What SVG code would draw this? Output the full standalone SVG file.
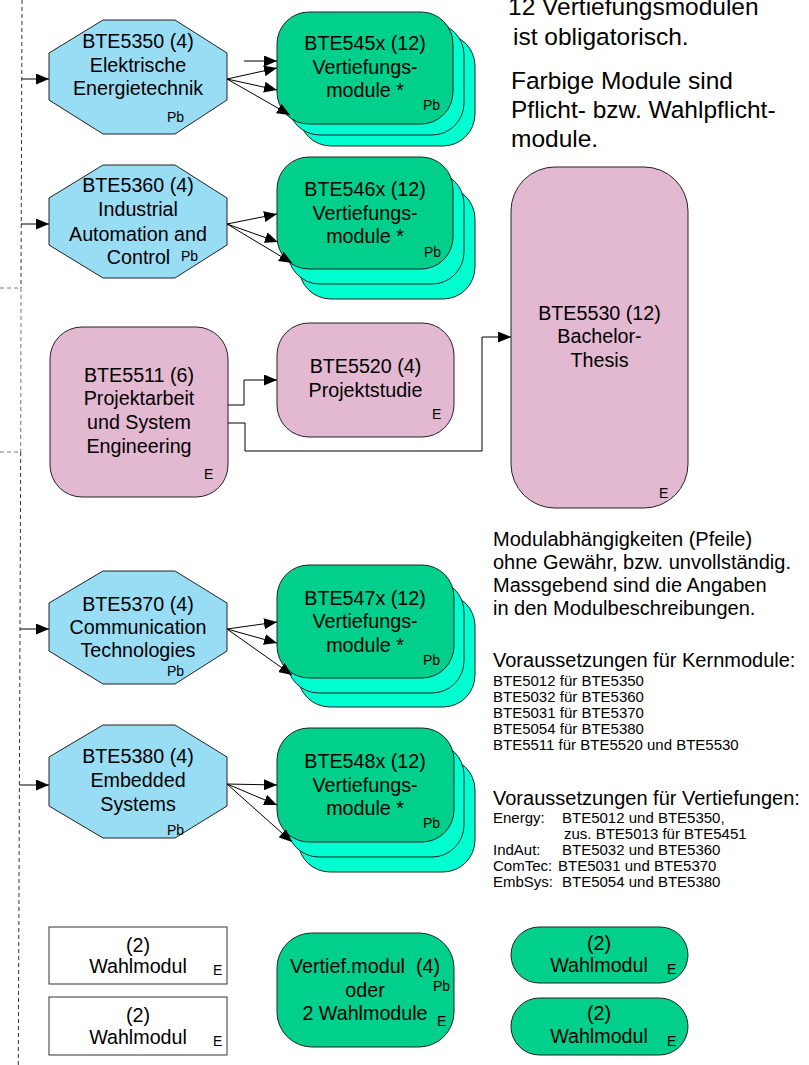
<svg xmlns="http://www.w3.org/2000/svg" width="809" height="1065" viewBox="0 0 809 1065">
<style>
text{font-family:"Liberation Sans",Arial,sans-serif;fill:#000}
.m{font-size:19.7px;text-anchor:middle}
.s{font-size:14px}
.big{font-size:24.5px}
.r{font-size:20px}
.sm{font-size:15px}
.oct{fill:#99DDF5;stroke:#222;stroke-width:1}
.grn{fill:#00D08C;stroke:#222;stroke-width:1}
.cy{fill:#00FFD0;stroke:#222;stroke-width:1}
.pk{fill:#E3B8D1;stroke:#222;stroke-width:1}
.wh{fill:#fff;stroke:#333;stroke-width:1}
.c{fill:none;stroke:#000;stroke-width:1;marker-end:url(#ah)}
.d{fill:none;stroke:#333;stroke-width:1;stroke-dasharray:4,3}
.dg{fill:none;stroke:#777;stroke-width:1;stroke-dasharray:4,3}
</style>
<defs>
<marker id="ah" markerUnits="userSpaceOnUse" markerWidth="13" markerHeight="11" refX="13" refY="5.5" orient="auto">
<path d="M0,0 L13,5.5 L0,11 z" fill="#000"/>
</marker>
</defs>

<g id="frame">
<path class="d" d="M22,0 L21,288"/>
<path class="dg" d="M21,288 L20.7,452"/>
<path class="dg" d="M0,288 H21 M0,452 H21"/>
<path class="d" d="M20.7,452 L18.3,1065"/>
</g>

<g id="BTE5350">
<polygon class="oct" points="103,20 175,20 227,53 227,100 175,134 103,134 49,100 49,53"/>
<text class="m" x="138" y="48">BTE5350 (4)</text>
<text class="m" x="138" y="71.5">Elektrische</text>
<text class="m" x="138" y="95">Energietechnik</text>
<text class="s" x="167" y="122">Pb</text>
</g>

<g id="BTE5360">
<polygon class="oct" points="103,165 175,165 227,198 227,245 175,278 103,278 49,245 49,198"/>
<text class="m" x="138" y="192">BTE5360 (4)</text>
<text class="m" x="138" y="216">Industrial</text>
<text class="m" x="138" y="240.5">Automation and</text>
<text class="m" x="138.5" y="264">Control</text>
<text class="s" x="181" y="261">Pb</text>
</g>

<g id="BTE5370">
<polygon class="oct" points="103,571 175,571 227,603 227,651 175,684 103,684 49,651 49,603"/>
<text class="m" x="138" y="611">BTE5370 (4)</text>
<text class="m" x="138" y="634">Communication</text>
<text class="m" x="138" y="657">Technologies</text>
<text class="s" x="167" y="676">Pb</text>
</g>

<g id="BTE5380">
<polygon class="oct" points="103,725 175,725 227,757 227,806 175,838 103,838 49,806 49,757"/>
<text class="m" x="138" y="763">BTE5380 (4)</text>
<text class="m" x="138" y="787">Embedded</text>
<text class="m" x="138" y="811">Systems</text>
<text class="s" x="167" y="835">Pb</text>
</g>

<g id="BTE545x">
<rect class="cy" x="299" y="34" width="176" height="112" rx="32"/>
<rect class="cy" x="288" y="23" width="176" height="112" rx="32"/>
<rect class="grn" x="277" y="12" width="176" height="112" rx="32"/>
<text class="m" x="365" y="50">BTE545x (12)</text>
<text class="m" x="365" y="74">Vertiefungs-</text>
<text class="m" x="365" y="97">module *</text>
<text class="s" x="423" y="110">Pb</text>
</g>

<g id="BTE546x">
<rect class="cy" x="299" y="187" width="176" height="112" rx="32"/>
<rect class="cy" x="288" y="172" width="176" height="112" rx="32"/>
<rect class="grn" x="277" y="157" width="176" height="112" rx="32"/>
<text class="m" x="365" y="196">BTE546x (12)</text>
<text class="m" x="365" y="220">Vertiefungs-</text>
<text class="m" x="365" y="243">module *</text>
<text class="s" x="424" y="257">Pb</text>
</g>

<g id="BTE547x">
<rect class="cy" x="298" y="594" width="177" height="113" rx="32"/>
<rect class="cy" x="287" y="580" width="177" height="113" rx="32"/>
<rect class="grn" x="277" y="565" width="177" height="113" rx="32"/>
<text class="m" x="365" y="605">BTE547x (12)</text>
<text class="m" x="365" y="628">Vertiefungs-</text>
<text class="m" x="365" y="652">module *</text>
<text class="s" x="423" y="665">Pb</text>
</g>

<g id="BTE548x">
<rect class="cy" x="298" y="758" width="177" height="114" rx="32"/>
<rect class="cy" x="287" y="743" width="177" height="114" rx="32"/>
<rect class="grn" x="277" y="728" width="177" height="114" rx="32"/>
<text class="m" x="365" y="768">BTE548x (12)</text>
<text class="m" x="365" y="792">Vertiefungs-</text>
<text class="m" x="365" y="815">module *</text>
<text class="s" x="423" y="828">Pb</text>
</g>

<g id="BTE5511">
<rect class="pk" x="50" y="327" width="178" height="170" rx="32"/>
<text class="m" x="139" y="382">BTE5511 (6)</text>
<text class="m" x="139" y="405">Projektarbeit</text>
<text class="m" x="139" y="429">und System</text>
<text class="m" x="139" y="453">Engineering</text>
<text class="s" x="204" y="479">E</text>
</g>

<g id="BTE5520">
<rect class="pk" x="277" y="323" width="177" height="114" rx="32"/>
<text class="m" x="365.5" y="373">BTE5520 (4)</text>
<text class="m" x="365.5" y="397">Projektstudie</text>
<text class="s" x="432" y="419">E</text>
</g>

<g id="BTE5530">
<rect class="pk" x="511" y="167" width="177" height="341" rx="44"/>
<text class="m" x="599.5" y="320">BTE5530 (12)</text>
<text class="m" x="599.5" y="343">Bachelor-</text>
<text class="m" x="599.5" y="367">Thesis</text>
<text class="s" x="659" y="498">E</text>
</g>

<g id="wahl1">
<rect class="wh" x="49" y="927" width="178" height="57"/>
<text class="m" x="138" y="952">(2)</text>
<text class="m" x="138" y="973">Wahlmodul</text>
<text class="s" x="213" y="975">E</text>
</g>

<g id="wahl2">
<rect class="wh" x="49" y="997" width="178" height="58"/>
<text class="m" x="138" y="1022">(2)</text>
<text class="m" x="138" y="1044">Wahlmodul</text>
<text class="s" x="213" y="1046">E</text>
</g>

<g id="vertiefmodul">
<rect class="grn" x="277" y="933" width="177" height="114" rx="35"/>
<text class="m" x="365" y="973">Vertief.modul&#160; (4)</text>
<text class="m" x="365" y="997">oder</text>
<text class="m" x="365" y="1020">2 Wahlmodule</text>
<text class="s" x="433" y="991">Pb</text>
<text class="s" x="437" y="1026">E</text>
</g>

<g id="wahl3">
<rect class="grn" x="511" y="927" width="177" height="56" rx="28"/>
<text class="m" x="599" y="950">(2)</text>
<text class="m" x="599" y="972">Wahlmodul</text>
<text class="s" x="667" y="974">E</text>
</g>

<g id="wahl4">
<rect class="grn" x="511" y="998" width="177" height="57" rx="28.5"/>
<text class="m" x="599" y="1020">(2)</text>
<text class="m" x="599" y="1043">Wahlmodul</text>
<text class="s" x="667" y="1046">E</text>
</g>

<g id="notes">
<text class="big" x="508" y="15">12 Vertiefungsmodulen</text>
<text class="big" x="513" y="44.5">ist obligatorisch.</text>
<text class="big" x="511" y="88.5">Farbige Module sind</text>
<text class="big" x="511" y="118">Pflicht- bzw. Wahlpflicht-</text>
<text class="big" x="511" y="147">module.</text>

<text class="r" x="493" y="546">Modulabhängigkeiten (Pfeile)</text>
<text class="r" x="493" y="569">ohne Gewähr, bzw. unvollständig.</text>
<text class="r" x="493" y="592">Massgebend sind die Angaben</text>
<text class="r" x="493" y="615">in den Modulbeschreibungen.</text>

<text class="r" x="493" y="667">Voraussetzungen für Kernmodule:</text>
<text class="sm" x="493" y="686">BTE5012 für BTE5350</text>
<text class="sm" x="493" y="702">BTE5032 für BTE5360</text>
<text class="sm" x="493" y="718">BTE5031 für BTE5370</text>
<text class="sm" x="493" y="734">BTE5054 für BTE5380</text>
<text class="sm" x="493" y="750">BTE5511 für BTE5520 und BTE5530</text>

<text class="r" x="493" y="805">Voraussetzungen für Vertiefungen:</text>
<text class="sm" x="493" y="823">Energy:</text>
<text class="sm" x="562" y="823">BTE5012 und BTE5350,</text>
<text class="sm" x="564" y="839">zus. BTE5013 für BTE5451</text>
<text class="sm" x="493" y="855">IndAut:</text>
<text class="sm" x="562" y="855">BTE5032 und BTE5360</text>
<text class="sm" x="493" y="871">ComTec:</text>
<text class="sm" x="558" y="871">BTE5031 und BTE5370</text>
<text class="sm" x="493" y="887">EmbSys:</text>
<text class="sm" x="562" y="887">BTE5054 und BTE5380</text>
</g>

<g id="connectors">
<path class="c" d="M22,79 H49"/>
<path class="c" d="M21,224 H49"/>
<path class="c" d="M20,629 H49"/>
<path class="c" d="M19.5,785 H49"/>

<path class="c" d="M244,61 H277"/>
<path class="c" d="M227,79 L277,68"/>
<path class="c" d="M227,79 L277,90"/>
<path class="c" d="M227,79 L290,115"/>

<path class="c" d="M227,224 L277,214"/>
<path class="c" d="M227,224 L278,242"/>
<path class="c" d="M227,224 L292,263"/>

<path class="c" d="M227,629 L277,622"/>
<path class="c" d="M227,629 L277,643"/>
<path class="c" d="M227,629 L292,675"/>

<path class="c" d="M227,784 L277,785"/>
<path class="c" d="M227,784 L277,805"/>
<path class="c" d="M227,784 L292,842"/>

<path class="c" d="M228,405 H244 V380 H277"/>
<path class="c" d="M228,423 H245 V451 H482 V337 H511"/>
</g>
</svg>
